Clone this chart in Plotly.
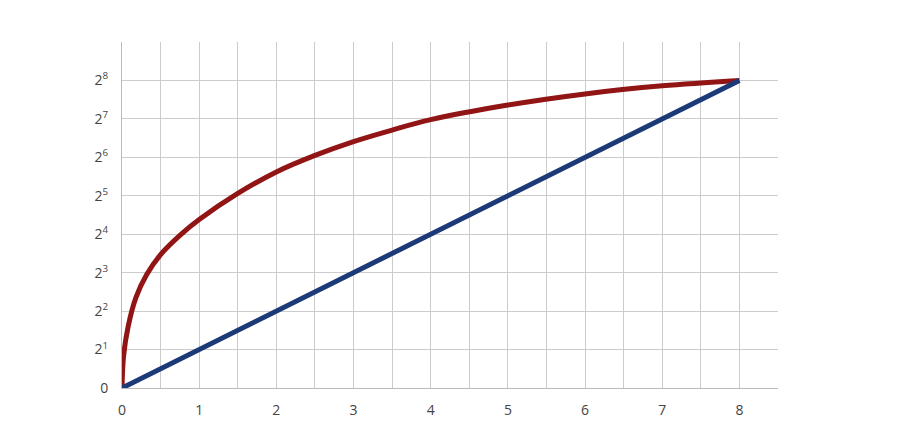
import plotly.graph_objects as go

# ---- Data ----
BLUE_X = [0, 8]
BLUE_Y = [0, 8]

RED_X = [0, 0.02, 0.08, 0.18, 0.32, 0.5, 0.75, 1.0, 1.5, 2.0, 2.5, 3.0, 3.5,
         4.0, 5.0, 6.0, 7.0, 8.0]
RED_Y = [0, 0.82, 1.6, 2.35, 2.95, 3.47, 3.97, 4.38, 5.06, 5.62, 6.05, 6.41,
         6.71, 6.98, 7.36, 7.65, 7.86, 8.0]

X_TICKS = [0, 1, 2, 3, 4, 5, 6, 7, 8]
Y_TICKS = [0, 1, 2, 3, 4, 5, 6, 7, 8, 9]
Y_LABELS = ["0"] + [f"2<sup>{n}</sup>" for n in range(1, 9)] + [""]

RED = "#921515"
BLUE = "#1c3a78"
GRID = "#cccccc"
FONT_COLOR = "#444444"

fig = go.Figure()
fig.add_trace(go.Scatter(
    x=RED_X, y=RED_Y, mode="lines",
    line=dict(color=RED, width=5, shape="spline", smoothing=1),
    showlegend=False,
))
fig.add_trace(go.Scatter(
    x=BLUE_X, y=BLUE_Y, mode="lines",
    line=dict(color=BLUE, width=5),
    showlegend=False,
))

# the page body adds an 8px offset, so size the figure to fit inside it
fig.update_layout(
    width=884,
    height=430,
    margin=dict(l=114, r=114, t=34, b=50),
    plot_bgcolor="white",
    paper_bgcolor="white",
    font=dict(family="Open Sans", size=14, color=FONT_COLOR),
    xaxis=dict(
        range=[0, 8.5],
        tickvals=X_TICKS,
        showgrid=True,
        gridcolor=GRID,
        gridwidth=1,
        minor=dict(dtick=0.5, tick0=0, showgrid=True, gridcolor=GRID, gridwidth=1),
        zeroline=False,
        showline=True,
        linecolor="#bbbbbb",
        ticks="",
        ticklabelstandoff=9,
        fixedrange=True,
    ),
    yaxis=dict(
        range=[0, 9],
        tickvals=Y_TICKS,
        ticktext=Y_LABELS,
        showgrid=True,
        gridcolor=GRID,
        gridwidth=1,
        zeroline=False,
        showline=True,
        linecolor="#bbbbbb",
        ticks="",
        ticklabelstandoff=10,
        fixedrange=True,
    ),
)

fig.write_html("out.html")
